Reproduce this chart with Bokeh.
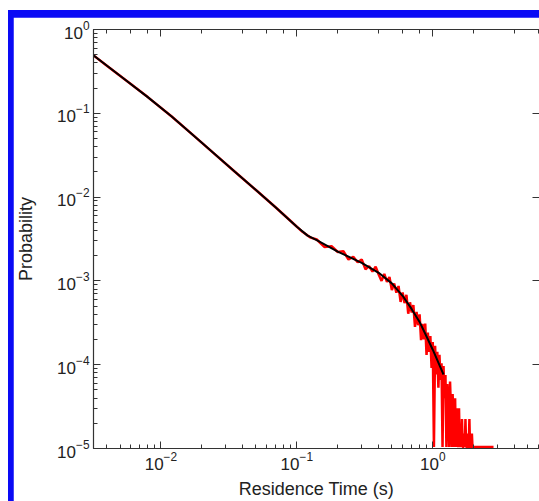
import numpy as np
from bokeh.plotting import figure
from bokeh.layouts import column
from bokeh.models import Range1d, LogAxis, CustomJSTickFormatter
from bokeh.embed import file_html
from bokeh.resources import INLINE

# Fitted curve (black)
fit_time = [0.003, 0.005, 0.008, 0.012, 0.02, 0.035, 0.05, 0.07, 0.1, 0.12, 0.14, 0.17,
            0.2, 0.3, 0.4, 0.5, 0.6, 0.7, 0.8, 0.9, 1.0, 1.1, 1.2]
fit_prob = [0.530, 0.280, 0.156, 0.0916, 0.0445, 0.0201, 0.01216, 0.00752, 0.00443, 0.00347,
            0.00307, 0.00259, 0.00224, 0.00164, 0.00125, 0.000935, 0.000664, 0.000460,
            0.000324, 0.000217, 0.000151, 0.000106, 0.0000764]

# Measured residence-time distribution (red); 0 = empty bin
data_time = [0.003, 0.004, 0.006, 0.008, 0.012, 0.017, 0.025, 0.035, 0.05, 0.07, 0.09, 0.11, 0.125,
             0.14, 0.16, 0.18, 0.20, 0.22, 0.24, 0.26, 0.28, 0.30, 0.32, 0.34, 0.36, 0.38, 0.40,
             0.42, 0.44, 0.46, 0.48, 0.50, 0.52, 0.54, 0.56, 0.58, 0.60, 0.62, 0.64, 0.66, 0.68,
             0.70, 0.72, 0.74, 0.76, 0.78, 0.80, 0.82, 0.84, 0.86, 0.88, 0.90, 0.92, 0.94, 0.96,
             0.98, 1.00, 1.02, 1.04, 1.06, 1.08, 1.10, 1.12, 1.14, 1.16, 1.18, 1.20, 1.22, 1.24,
             1.26, 1.28, 1.30, 1.32, 1.34, 1.36, 1.38, 1.40, 1.42, 1.44, 1.46, 1.48, 1.50, 1.52,
             1.54, 1.56, 1.58, 1.60, 1.62, 1.64, 1.66, 1.68, 1.70, 1.72, 1.74, 1.76, 1.78, 1.80,
             1.82, 1.84, 1.86, 1.88, 1.90, 1.92, 1.94, 1.96, 1.98, 2.2, 2.5, 2.8]
data_prob = [0.530, 0.370, 0.223, 0.156, 0.0916, 0.0561, 0.0324, 0.0201, 0.01216, 0.00752,
             0.00518, 0.00385, 0.00331,
             3.12e-3, 2.54e-3, 2.59e-3, 2.21e-3, 2.26e-3, 1.80e-3, 1.94e-3, 1.67e-3, 1.80e-3,
             1.38e-3, 1.50e-3, 1.29e-3, 1.48e-3, 1.19e-3, 1.00e-3, 1.21e-3, 9.73e-4, 1.11e-3,
             7.78e-4, 9.33e-4, 7.23e-4, 8.69e-4, 5.62e-4, 7.28e-4, 5.43e-4, 6.82e-4, 4.06e-4,
             5.55e-4, 4.20e-4, 5.15e-4, 2.82e-4, 4.26e-4, 2.96e-4, 3.98e-4, 1.96e-4, 3.08e-4,
             2.01e-4, 3.09e-4, 1.31e-4, 2.41e-4, 1.42e-4, 2.19e-4, 9.14e-5, 1.86e-4,
             0, 1.68e-4, 7.67e-5, 1.43e-4, 5.31e-5, 1.31e-4, 6.56e-5, 1.04e-4, 0, 9.62e-5,
             3.98e-5, 7.53e-5, 0, 5.89e-5, 3.31e-5, 0, 6.31e-5, 3.02e-5, 0, 4.47e-5, 2.24e-5,
             0, 3.98e-5, 0, 3.02e-5, 1.51e-5, 0, 3.02e-5, 0, 1.51e-5, 0, 2.24e-5, 0, 0,
             1.51e-5, 0, 2.24e-5, 0, 0, 1.51e-5, 0, 0, 2.24e-5, 0, 0, 0, 1.51e-5, 0, 0,
             0, 0, 0]

X_START, X_END = 0.00319, 6.1
Y_MIN, Y_MAX = 1e-5, 1.0
EMPTY_LEVEL = 1.04e-5   # empty bins are drawn along the lower axis, as in the original

plot_prob = [v if v > 0 else EMPTY_LEVEL for v in data_prob]

FONT = "Liberation Sans"
AXIS_COLOR = "#333333"
BLUE = "#0a0af5"

# the figure sits inside a blue frame: 8 px white + 5 px blue on the left,
# 10 px white + 7 px blue on top
p = figure(width=526, height=484, x_axis_type="log", y_axis_type="log",
           x_range=Range1d(X_START, X_END), y_range=Range1d(Y_MIN, Y_MAX),
           output_backend="svg", toolbar_location=None,
           x_axis_label="Residence Time (s)", y_axis_label="Probability",
           min_border_left=79, min_border_top=12, min_border_bottom=52, min_border_right=0,
           margin=(7, 0, 0, 5))
p.grid.visible = False
p.outline_line_color = None
p.background_fill_color = "white"
p.border_fill_color = "white"

p.line(data_time, plot_prob, line_color="#ff0000", line_width=2.5)
p.line(fit_time, fit_prob, line_color="#000000", line_width=2)

def style(ax, labels=True, minor=True):
    ax.axis_line_color = AXIS_COLOR
    ax.axis_line_width = 1.2
    ax.major_tick_line_color = AXIS_COLOR
    ax.minor_tick_line_color = AXIS_COLOR if minor else None
    ax.major_tick_in = 7
    ax.major_tick_out = 0
    ax.minor_tick_in = 4
    ax.minor_tick_out = 0
    ax.major_label_text_font = FONT
    ax.major_label_text_font_size = "17px"
    ax.major_label_text_color = "#222222"
    ax.axis_label_text_font = FONT
    ax.axis_label_text_font_size = "18px"
    ax.axis_label_text_font_style = "normal"
    ax.axis_label_text_color = "#222222"
    if not labels:
        ax.formatter = CustomJSTickFormatter(code="return ''")
        ax.major_label_text_font_size = "0px"
        ax.major_label_standoff = 0

style(p.xaxis[0])
style(p.yaxis[0])
p.xaxis[0].major_label_standoff = 3
p.xaxis[0].axis_label_standoff = 6
p.yaxis[0].major_label_standoff = 4
p.yaxis[0].axis_label_standoff = 18

top = LogAxis()
style(top, labels=False)
p.add_layout(top, "above")
right = LogAxis()
style(right, labels=False, minor=False)
right.axis_line_color = None
p.add_layout(right, "right")

layout = column(p, margin=(10, 0, 0, 8), spacing=0,
                styles={"background-color": BLUE})

open("out.html", "w").write(file_html(layout, INLINE))
